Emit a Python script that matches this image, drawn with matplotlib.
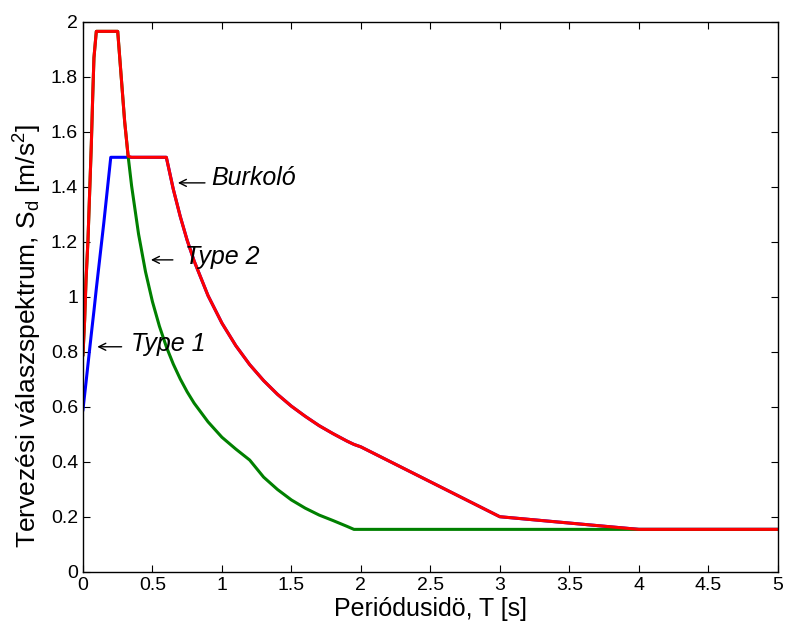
import numpy as np
import matplotlib
matplotlib.use("Agg")
import matplotlib.pyplot as plt

plt.rcParams["font.family"] = ["Liberation Sans", "DejaVu Sans"]
plt.rcParams["mathtext.default"] = "regular"

# period values [s]
T = [0, 0.012, 0.022, 0.036, 0.06, 0.07, 0.079, 0.096, 0.15, 0.2, 0.25, 0.3,
     0.325, 0.35, 0.4, 0.45, 0.5, 0.55, 0.6, 0.65, 0.7, 0.75, 0.8, 0.9, 1.0,
     1.1, 1.2, 1.3, 1.4, 1.5, 1.6, 1.7, 1.8, 1.9, 1.95, 2.0, 3.0, 4.0, 5.0]

# Type 1 spectrum [m/s2]
sd_type1 = [0.59, 0.645, 0.69, 0.755, 0.865, 0.91, 0.95, 1.03, 1.27, 1.508,
            1.508, 1.508, 1.508, 1.508, 1.508, 1.508, 1.508, 1.508, 1.508,
            1.392, 1.293, 1.206, 1.131, 1.005, 0.905, 0.823, 0.754, 0.696,
            0.646, 0.603, 0.566, 0.532, 0.503, 0.476, 0.464, 0.455, 0.201,
            0.155, 0.155]

# Type 2 spectrum [m/s2]
sd_type2 = [0.79, 0.916, 1.062, 1.207, 1.553, 1.728, 1.87, 1.966, 1.966, 1.966,
            1.966, 1.638, 1.512, 1.404, 1.229, 1.092, 0.983, 0.894, 0.819,
            0.756, 0.702, 0.655, 0.614, 0.546, 0.49, 0.447, 0.407, 0.345,
            0.300, 0.262, 0.232, 0.207, 0.187, 0.166, 0.155, 0.155, 0.155,
            0.155, 0.155]

# envelope of the two
sd_env = np.maximum(sd_type1, sd_type2)

fig = plt.figure(figsize=(7.85, 6.34), dpi=100)
ax = fig.add_axes([0.1057, 0.0978, 0.885, 0.8675])

ax.plot(T, sd_type1, color=(0, 0, 1), lw=2.2)
ax.plot(T, sd_type2, color=(0, 0.5, 0), lw=2.2)
ax.plot(T, sd_env, color=(1, 0, 0), lw=2.2)

ax.set_xlim(0, 5)
ax.set_ylim(0, 2)
ax.set_xticks(np.arange(0, 5.01, 0.5))
ax.set_xticklabels(["0", "0.5", "1", "1.5", "2", "2.5", "3", "3.5", "4", "4.5", "5"])
ax.set_yticks(np.arange(0, 2.01, 0.2))
ax.set_yticklabels(["0", "0.2", "0.4", "0.6", "0.8", "1", "1.2", "1.4", "1.6", "1.8", "2"])
ax.tick_params(direction="in", top=True, right=True, labelsize=14, length=5)
for s in ax.spines.values():
    s.set_linewidth(1.0)

ax.set_xlabel("Periódusidö, T [s]", fontsize=18, labelpad=2)
ax.set_ylabel("Tervezési válaszspektrum, S$_d$ [m/s$^2$]", fontsize=19)
ax.yaxis.set_label_coords(-0.056, 0.43)

arrow = dict(arrowstyle="->,head_length=0.5,head_width=0.25", lw=1.0, color="black",
             shrinkA=0, shrinkB=0)
ax.annotate("", xy=(0.683, 1.415), xytext=(0.878, 1.415), arrowprops=arrow)
ax.text(0.921, 1.433, "Burkoló", fontsize=18, style="italic", va="center", ha="left")
ax.annotate("", xy=(0.489, 1.135), xytext=(0.647, 1.135), arrowprops=arrow)
ax.text(0.734, 1.145, "Type 2", fontsize=18, style="italic", va="center", ha="left")
ax.annotate("", xy=(0.103, 0.819), xytext=(0.278, 0.819), arrowprops=arrow)
ax.text(0.345, 0.83, "Type 1", fontsize=18, style="italic", va="center", ha="left")

fig.savefig("out.png", dpi=100)
